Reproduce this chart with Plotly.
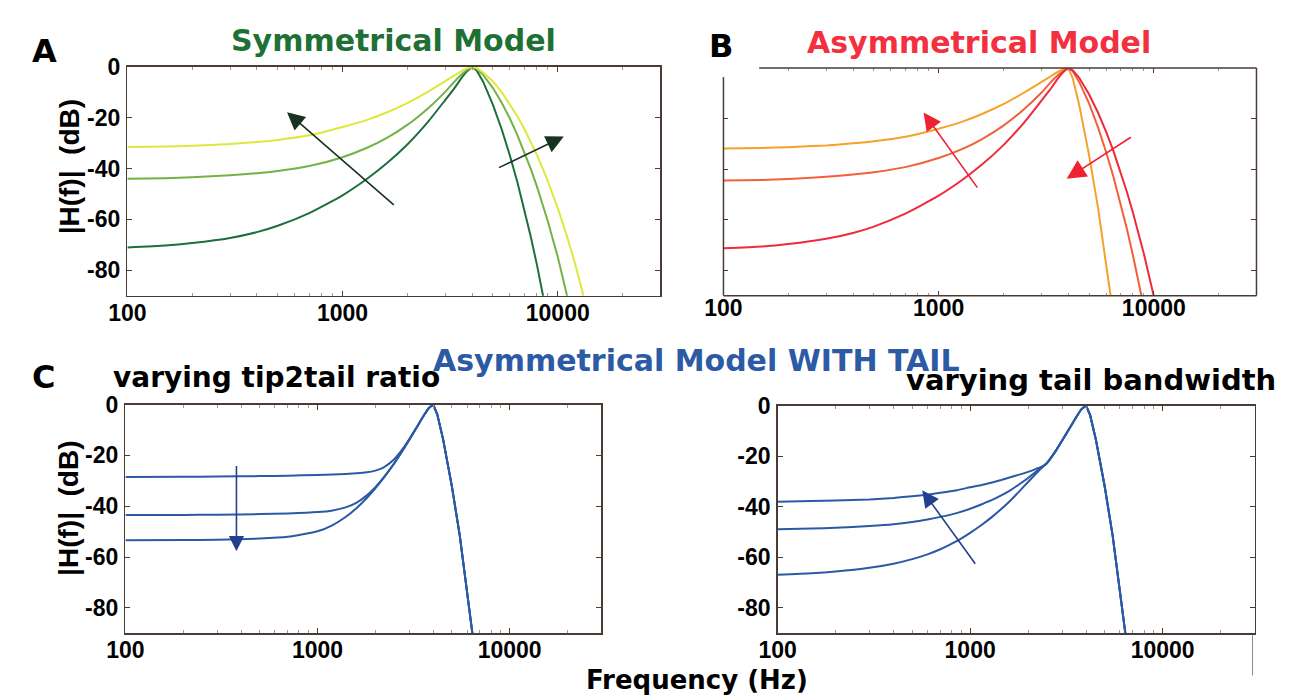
import math
import plotly.graph_objects as go

# ---------------- data ----------------
X_TICKS = [100, 1000, 10000]
X_TICK_LABELS = ["100", "1000", "10000"]
Y_TICKS = [-80, -60, -40, -20, 0]
Y_TICK_LABELS = ["-80", "-60", "-40", "-20", "0"]

# Panel A - symmetrical model
A_FREQ_LOW = [100, 150, 200, 300, 400, 500, 700, 1000, 1300, 1600, 2000, 2500, 3000, 3300, 3600, 3800, 4000]
A_LOW_YELLOW = [-31.5, -31.3, -31.0, -30.3, -29.5, -28.7, -26.9, -23.6, -20.8, -17.9, -14.2, -9.7, -5.6, -3.4, -1.4, -0.45, 0]
A_LOW_LIGHT = [-44, -43.8, -43.4, -42.6, -41.8, -40.9, -39.0, -35.5, -31.8, -28.0, -22.8, -16.2, -9.8, -5.9, -2.7, -1.1, 0]
A_LOW_DARK = [-71, -70.3, -69.3, -67.3, -65, -62.5, -57.5, -50.5, -44, -38, -30.5, -21.5, -13, -8.5, -3.9, -1.6, 0]
A_FREQ_HIGH = [4000, 4200, 4500, 5000, 5500, 6000, 6500, 7000, 7500, 8000, 8500, 9000, 10000, 11000, 12000, 13000, 14000]
A_HIGH_YELLOW = [0, -0.4, -2.1, -5.7, -10.0, -14.7, -19.5, -24.4, -29.5, -34.6, -39.8, -45.0, -55.5, -66.2, -77.0, -87.7, -98.6]
A_HIGH_LIGHT = [0, -0.7, -3.1, -8.3, -14.2, -20.4, -26.9, -33.5, -40.2, -47.0, -53.9, -60.8, -74.7, -88.6, -102.8, None, None]
A_HIGH_DARK = [0, -1.4, -5.8, -14.9, -24.7, -35.0, -45.5, -56.2, -66.9, -77.8, -88.6, -99.6, None, None, None, None, None]

# Panel B - asymmetrical model
B_FREQ_LOW = [100, 150, 200, 300, 400, 500, 700, 1000, 1300, 1600, 2000, 2500, 3000, 3300, 3600, 3800, 4000]
B_LOW_ORANGE = [-31.8, -31.6, -31.3, -30.6, -29.8, -29.0, -27.2, -24.0, -21.1, -18.1, -14.3, -9.7, -5.6, -3.4, -1.4, -0.45, 0]
B_LOW_ORANGERED = [-44.5, -44.3, -43.9, -43.0, -42.1, -41.2, -39.2, -35.6, -31.9, -28.0, -22.8, -16.2, -9.8, -5.9, -2.7, -1.1, 0]
B_LOW_RED = [-71.3, -70.6, -69.6, -67.5, -65.2, -62.7, -57.6, -50.5, -44, -38, -30.5, -21.5, -13, -8.5, -3.9, -1.6, 0]
B_FREQ_HIGH = [4000, 4200, 4500, 5000, 5500, 6000, 6500, 7000, 7500, 8000, 8500, 9000, 10000, 11000, 12000, 13000, 14000]
B_HIGH_ORANGE = [0, -4.1, -14.6, -34.4, -55.1, -76.5, -98.2, None, None, None, None, None, None, None, None, None, None]
B_HIGH_ORANGERED = [0, -1.3, -5.5, -14.0, -23.4, -33.2, -43.2, -53.4, -63.7, -74.1, -84.2, -94.8, None, None, None, None, None]
B_HIGH_RED = [0, -0.9, -3.9, -10.4, -17.6, -25.2, -33.0, -41.0, -49.0, -57.2, -65.4, -73.6, -90.2, -107.0, None, None, None]

# Panel C - with tail, varying tip2tail ratio
C_FREQ_LOW = [100, 200, 300, 500, 700, 1000, 1200, 1400, 1600, 1800, 2000, 2200, 2500, 2800, 3000, 3300, 3600, 3800, 4000]
C_LOW_1 = [-28.5, -28.4, -28.3, -28.15, -27.97, -27.69, -27.49, -27.28, -27.04, -26.67, -25.98, -24.8, -21.63, -17.07, -13.65, -8.62, -3.88, -1.33, 0]
C_LOW_2 = [-43.5, -43.41, -43.31, -43.11, -42.86, -42.32, -41.65, -40.47, -38.55, -35.83, -32.48, -28.86, -23.23, -17.58, -13.89, -8.7, -3.9, -1.33, 0]
C_LOW_3 = [-53.44, -53.31, -53.16, -52.75, -52.05, -49.88, -47.4, -44.26, -40.68, -36.87, -32.95, -29.08, -23.29, -17.6, -13.9, -8.7, -3.9, -1.33, 0]

# Panel D - with tail, varying tail bandwidth
D_FREQ_LOW = [100, 150, 200, 300, 400, 500, 600, 700, 850, 1000, 1150, 1300, 1450, 1600, 1800, 2000, 2200, 2400, 2500, 2800, 3000, 3300, 3600, 3800, 4000]
D_LOW_1 = [-38, -37.7, -37.5, -37.1, -36.5, -35.8, -35.2, -34.5, -33.5, -32.3, -31.4, -30.4, -29.4, -28.4, -27.3, -26.2, -25.0, -23.8, -22.8, -17.6, -13.9, -8.7, -3.9, -1.33, 0]
D_LOW_2 = [-48.9, -48.6, -48.3, -47.6, -46.9, -46.0, -45.0, -44.0, -42.5, -40.8, -39.0, -37.3, -35.5, -33.7, -31.1, -28.6, -26.1, -23.9, -22.8, -17.6, -13.9, -8.7, -3.9, -1.33, 0]
D_LOW_3 = [-66.9, -66.3, -65.6, -64.1, -62.5, -60.7, -58.8, -56.8, -53.6, -50.3, -47.1, -44.0, -40.9, -37.9, -33.9, -30.2, -26.9, -24.0, -22.8, -17.6, -13.9, -8.7, -3.9, -1.33, 0]

# Shared upper (tip) side for panels C and D
TIP_FREQ_HIGH = [4000, 4200, 4500, 5000, 5500, 6000, 6500, 7000]
TIP_HIGH = [0, -3.8, -13.5, -32.0, -51.5, -73.0, -94.0, None]

# ---------------- styling ----------------
FONT = "Liberation Sans, Arial, Helvetica, sans-serif"
TFONT = "DejaVu Sans, Liberation Sans, sans-serif"
BOX = "#4a3b35"
YELLOW, LIGHT, DARK = "#dde83c", "#74b246", "#1f6e3e"
ORANGE, ORANGERED, RED = "#f6a22a", "#f2603a", "#ee2a3c"
BLUE = "#2b59a6"

W, H = 1289, 700


def px(x):
    return x / W


def py(y):
    return 1 - y / H


fig = go.Figure()


def curve(freqs, vals, color, n, smooth=True):
    s = "" if n == 1 else str(n)
    line = dict(color=color, width=2)
    if smooth:
        line.update(shape="spline", smoothing=0.5)
    fig.add_trace(go.Scatter(
        x=freqs, y=vals, mode="lines", line=line,
        xaxis="x" + s, yaxis="y" + s,
        hoverinfo="skip", showlegend=False, connectgaps=False,
    ))


# Panel A
for lo, hi, c in [(A_LOW_DARK, A_HIGH_DARK, DARK), (A_LOW_LIGHT, A_HIGH_LIGHT, LIGHT), (A_LOW_YELLOW, A_HIGH_YELLOW, YELLOW)]:
    curve(A_FREQ_LOW, lo, c, 1)
    curve(A_FREQ_HIGH, hi, c, 1, smooth=False)
# Panel B
for lo, hi, c in [(B_LOW_ORANGE, B_HIGH_ORANGE, ORANGE), (B_LOW_ORANGERED, B_HIGH_ORANGERED, ORANGERED), (B_LOW_RED, B_HIGH_RED, RED)]:
    curve(B_FREQ_LOW, lo, c, 2)
    curve(B_FREQ_HIGH, hi, c, 2, smooth=False)
# Panel C
for lo in [C_LOW_1, C_LOW_2, C_LOW_3]:
    curve(C_FREQ_LOW, lo, BLUE, 3)
    curve(TIP_FREQ_HIGH, TIP_HIGH, BLUE, 3, smooth=False)
# Panel D
for lo in [D_LOW_1, D_LOW_2, D_LOW_3]:
    curve(D_FREQ_LOW, lo, BLUE, 4)
    curve(TIP_FREQ_HIGH, TIP_HIGH, BLUE, 4, smooth=False)

MINOR_X = [m * d for d in (100, 1000, 10000) for m in range(2, 10) if m * d <= 30000]
TICKFONT = dict(family=FONT, size=23, color="black", weight="bold")


def xaxis(x0, x1, anchor, box=True):
    return dict(
        type="log", range=[2, math.log10(30000)], domain=[px(x0), px(x1)], anchor=anchor,
        tickmode="array", tickvals=X_TICKS, ticktext=X_TICK_LABELS,
        ticks="inside", ticklen=5, tickcolor=BOX, tickwidth=1,
        showline=box, linecolor=BOX, linewidth=1.5, mirror="allticks" if box else "ticks",
        showgrid=False, zeroline=False, tickfont=TICKFONT, ticklabelstandoff=-4,
        minor=dict(tickvals=MINOR_X, ticks="inside", ticklen=3, tickcolor="#a09690", showgrid=False),
        fixedrange=True,
    )


def yaxis(y0, y1, anchor, labels=True, box=True):
    return dict(
        range=[-90, 0], domain=[py(y1), py(y0)], anchor=anchor,
        tickmode="array", tickvals=Y_TICKS, ticktext=Y_TICK_LABELS, showticklabels=labels,
        ticks="inside", ticklen=5, tickcolor=BOX, tickwidth=1,
        showline=box, linecolor=BOX, linewidth=1.5, mirror="allticks" if box else "ticks",
        showgrid=False, zeroline=False, tickfont=TICKFONT, ticklabelstandoff=1,
        fixedrange=True,
    )


fig.update_layout(
    width=W, height=H, margin=dict(l=0, r=0, t=0, b=0),
    paper_bgcolor="white", plot_bgcolor="white", showlegend=False,
    xaxis=xaxis(110, 651, "y"), yaxis=yaxis(55, 288, "x"),
    xaxis2=xaxis(715, 1256, "y2", box=False), yaxis2=yaxis(56, 288, "x2", labels=False, box=False),
    xaxis3=xaxis(108, 591, "y3"), yaxis3=yaxis(399, 632, "x3"),
    xaxis4=xaxis(770, 1254, "y4"), yaxis4=yaxis(400, 632, "x4"),
)

# Panel B frame (scanned frame has a gap in its top-left corner)
for (xa, ya, xb, yb) in [(0, 0, 1, 0), (1, 0, 1, 1), (0.067, 1, 1, 1), (0, 0, 0, 0.96)]:
    fig.add_shape(type="line", xref="x2 domain", yref="y2 domain", x0=xa, y0=ya, x1=xb, y1=yb,
                  line=dict(color=BOX, width=1.5))
# stray scan mark below panel D
fig.add_shape(type="line", xref="paper", yref="paper", x0=px(1252), x1=px(1252), y0=py(634), y1=py(675),
              line=dict(color="#8a8a8a", width=1))

# Arrows: head, tail in axis coordinates (log10 frequency, dB)
ARROWS = [
    (1, (2.742, -17.8), (3.245, -54.8), "#17331f", 2.2),
    (1, (4.028, -27.4), (3.72, -39.9), "#17331f", 2.2),
    (2, (2.93, -17.6), (3.185, -47.9), "#ee2233", 2.2),
    (2, (3.595, -43.8), (3.90, -27.0), "#ee2233", 2.4),
    (3, (2.578, -57.7), (2.578, -23.6), "#22408f", 1.9),
    (4, (2.751, -33.5), (3.032, -63.1), "#22408f", 2.1),
]
for n, (hx, hy), (tx, ty), col, size in ARROWS:
    s = "" if n == 1 else str(n)
    fig.add_annotation(x=hx, y=hy, ax=tx, ay=ty, xref="x" + s, yref="y" + s, axref="x" + s, ayref="y" + s,
                       text="", showarrow=True, arrowhead=2, arrowsize=size, arrowwidth=1.6,
                       arrowcolor=col, standoff=0, startstandoff=0)


def label(text, x, y, size, color="black", angle=0, family=TFONT):
    fig.add_annotation(x=px(x), y=py(y), xref="paper", yref="paper", text=text, showarrow=False,
                       xanchor="center", yanchor="middle", textangle=angle,
                       font=dict(family=family, size=size, color=color, weight="bold"))


label("A", 26, 39, 32)
label("B", 713, 34, 32)
label("C", 25, 371, 32)
label("Symmetrical Model", 380, 28, 30, "#1e7035")
label("Asymmetrical Model", 974, 30, 30, "#f2303e")
label("Asymmetrical Model WITH TAIL", 688, 354, 30, "#2d5aa5")
label("varying tip2tail ratio", 261, 371, 28)
label("varying tail bandwidth", 1088, 374, 29)
label("Frequency (Hz)", 688, 680, 26)
label("|H(f)|\u00a0 (dB)", 51, 157, 28, angle=-90, family=FONT)
label("|H(f)|\u00a0 (dB)", 50, 505, 28, angle=-90, family=FONT)

fig.write_html("out.html", config={"displayModeBar": False, "staticPlot": True},
               post_script="document.body.style.margin='0';document.body.style.padding='0';")
